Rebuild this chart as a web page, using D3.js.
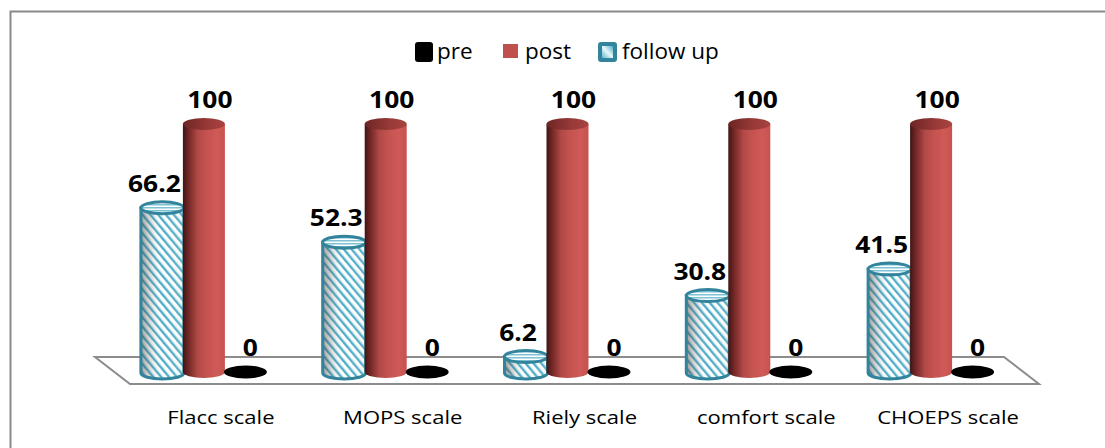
<!DOCTYPE html>
<html>
<head>
<meta charset="utf-8">
<script src="https://cdn.jsdelivr.net/npm/d3@7"></script>
<style>
  html, body { margin: 0; padding: 0; background: #fff; }
  svg { display: block; }
  text { font-family: "Open Sans", "Noto Sans", sans-serif; }
</style>
</head>
<body>
<svg id="chart" width="1105" height="448"></svg>
<script>
// ---- data ----
const categories = ["Flacc scale", "MOPS scale", "Riely scale", "comfort scale", "CHOEPS scale"];
const seriesNames = ["pre", "post", "follow up"];
const preValues = [0, 0, 0, 0, 0];
const postValues = [100, 100, 100, 100, 100];
const followUpValues = [66.2, 52.3, 6.2, 30.8, 41.5];
// drawing order inside each category (back to front along x)
const drawOrder = ["follow up", "post", "pre"];

const valuesBySeries = { "pre": preValues, "post": postValues, "follow up": followUpValues };

const svg = d3.select("#chart");
const W = 1105, H = 448;

svg.append("rect").attr("width", W).attr("height", H).attr("fill", "#fff");

// ---- defs ----
const defs = svg.append("defs");

const gPost = defs.append("linearGradient").attr("id", "gPost").attr("x1", 0).attr("x2", 1).attr("y1", 0).attr("y2", 0);
[["0%", "#3f1514"], ["12%", "#6e2524"], ["35%", "#b04947"], ["55%", "#c4524f"], ["80%", "#cf5a57"], ["100%", "#c7534f"]]
  .forEach(s => gPost.append("stop").attr("offset", s[0]).attr("stop-color", s[1]));
const gPostTop = defs.append("linearGradient").attr("id", "gPostTop").attr("x1", 0).attr("x2", 1).attr("y1", 0).attr("y2", 0);
[["0%", "#6c2523"], ["60%", "#983a38"], ["100%", "#a8423f"]]
  .forEach(s => gPostTop.append("stop").attr("offset", s[0]).attr("stop-color", s[1]));

const pat = defs.append("pattern").attr("id", "pStripe").attr("patternUnits", "userSpaceOnUse")
  .attr("width", 6).attr("height", 6).attr("patternTransform", "rotate(-40)");
pat.append("rect").attr("width", 6).attr("height", 6).attr("fill", "#ffffff");
pat.append("rect").attr("x", 0).attr("width", 2.4).attr("height", 6).attr("fill", "#4bacc6");

const patTop = defs.append("pattern").attr("id", "pStripeTop").attr("patternUnits", "userSpaceOnUse")
  .attr("width", 6).attr("height", 3);
patTop.append("rect").attr("width", 6).attr("height", 3).attr("fill", "#ffffff");
patTop.append("rect").attr("y", 0).attr("width", 6).attr("height", 1.5).attr("fill", "#7cc2d4");

const gShade = defs.append("linearGradient").attr("id", "gShade").attr("x1", 0).attr("x2", 1).attr("y1", 0).attr("y2", 0);
[["0%", "rgba(60,60,60,0.5)"], ["25%", "rgba(120,120,120,0.2)"], ["50%", "rgba(255,255,255,0)"], ["100%", "rgba(200,200,200,0.15)"]]
  .forEach(s => gShade.append("stop").attr("offset", s[0]).attr("stop-color", s[1]));

const gLeg = defs.append("linearGradient").attr("id", "gLeg").attr("x1", 0).attr("x2", 1).attr("y1", 1).attr("y2", 0);
[["0%", "#5fb8cf"], ["50%", "#e8f6fa"], ["100%", "#4bacc6"]]
  .forEach(s => gLeg.append("stop").attr("offset", s[0]).attr("stop-color", s[1]));

// ---- frame ----
svg.append("rect").attr("x", 10.5).attr("y", 11.5).attr("width", 1110).attr("height", 460)
  .attr("fill", "none").attr("stroke", "#898989").attr("stroke-width", 2);

// ---- scales ----
const xFront = d3.scaleBand().domain(categories).range([130, 1039]).padding(0);
const depthShift = -35;
const cylShift = -17;
const inner = d3.scalePoint().domain(drawOrder).range([-41.5, 41.5]);
const y = d3.scaleLinear().domain([0, 100]).range([372, 124]);

// ---- floor ----
const fy = 384, by = 357;
const [fx0, fx1] = xFront.range();
svg.append("polygon")
  .attr("points", [[fx0 + depthShift, by], [fx1 + depthShift, by], [fx1, fy], [fx0, fy]].map(p => p.join(",")).join(" "))
  .attr("fill", "#fff").attr("stroke", "#8c8c8c").attr("stroke-width", 2);

// ---- cylinders ----
const rx = 21, ry = 6;
function bodyPath(cx, yt, yb, r) {
  return `M${cx - r},${yt} L${cx - r},${yb} A${r},${ry} 0 0 0 ${cx + r},${yb} L${cx + r},${yt} Z`;
}

const items = [];
categories.forEach((c, i) => {
  drawOrder.forEach(s => {
    items.push({ cat: c, series: s, value: valuesBySeries[s][i], cx: xFront(c) + xFront.bandwidth() / 2 + cylShift + inner(s) });
  });
});

const gBars = svg.append("g");
items.forEach(d => {
  const yb = y(0), yt = y(d.value);
  const g = gBars.append("g");
  if (d.series === "pre") {
    g.append("ellipse").attr("cx", d.cx).attr("cy", yb).attr("rx", rx + 0.5).attr("ry", ry + 0.5).attr("fill", "#000");
  } else if (d.series === "post") {
    g.append("path").attr("d", bodyPath(d.cx, yt, yb, rx)).attr("fill", "url(#gPost)");
    g.append("ellipse").attr("cx", d.cx).attr("cy", yt).attr("rx", rx).attr("ry", ry).attr("fill", "url(#gPostTop)");
  } else {
    const r = rx + 0.5;
    const yb2 = yb + 1;
    g.append("path").attr("d", bodyPath(d.cx, yt, yb2, r)).attr("fill", "url(#pStripe)");
    g.append("path").attr("d", bodyPath(d.cx, yt, yb2, r)).attr("fill", "url(#gShade)")
      .attr("stroke", "#31849b").attr("stroke-width", 3);
    g.append("ellipse").attr("cx", d.cx).attr("cy", yt).attr("rx", r).attr("ry", ry)
      .attr("fill", "url(#pStripeTop)").attr("stroke", "#31849b").attr("stroke-width", 3);
  }
});

// ---- value labels ----
const labelDx = { "pre": 5, "post": 6, "follow up": -8 };
items.forEach(d => {
  svg.append("text")
    .attr("transform", `translate(${d.cx + labelDx[d.series]},${y(d.value) - 16}) scale(1.1,1)`)
    .attr("text-anchor", "middle")
    .attr("font-size", 24).attr("font-weight", 700).attr("fill", "#000")
    .text(d3.format("~")(d.value));
});

// ---- category labels ----
categories.forEach(c => {
  svg.append("text")
    .attr("transform", `translate(${xFront(c) + xFront.bandwidth() / 2},424) scale(1.16,1)`)
    .attr("text-anchor", "middle")
    .attr("font-size", 19).attr("fill", "#000")
    .text(c);
});

// ---- legend ----
const legend = svg.append("g");
const legendItems = [
  { name: "pre", x: 415, sw: (g, x) => g.append("rect").attr("x", x).attr("y", 42).attr("width", 18).attr("height", 20).attr("rx", 3).attr("fill", "#000"), tx: 437 },
  { name: "post", x: 503, sw: (g, x) => g.append("rect").attr("x", x).attr("y", 44).attr("width", 15).attr("height", 14).attr("fill", "#c0504d"), tx: 525 },
  { name: "follow up", x: 598, sw: (g, x) => {
      g.append("rect").attr("x", x).attr("y", 42).attr("width", 19).attr("height", 20).attr("rx", 3).attr("fill", "#31849b");
      g.append("rect").attr("x", x + 4).attr("y", 46).attr("width", 11).attr("height", 12).attr("fill", "url(#gLeg)");
    }, tx: 622 }
];
legendItems.forEach(li => {
  li.sw(legend, li.x);
  legend.append("text").attr("x", li.tx).attr("y", 59).attr("font-size", 22.5).attr("fill", "#000").text(li.name);
});
</script>
</body>
</html>
